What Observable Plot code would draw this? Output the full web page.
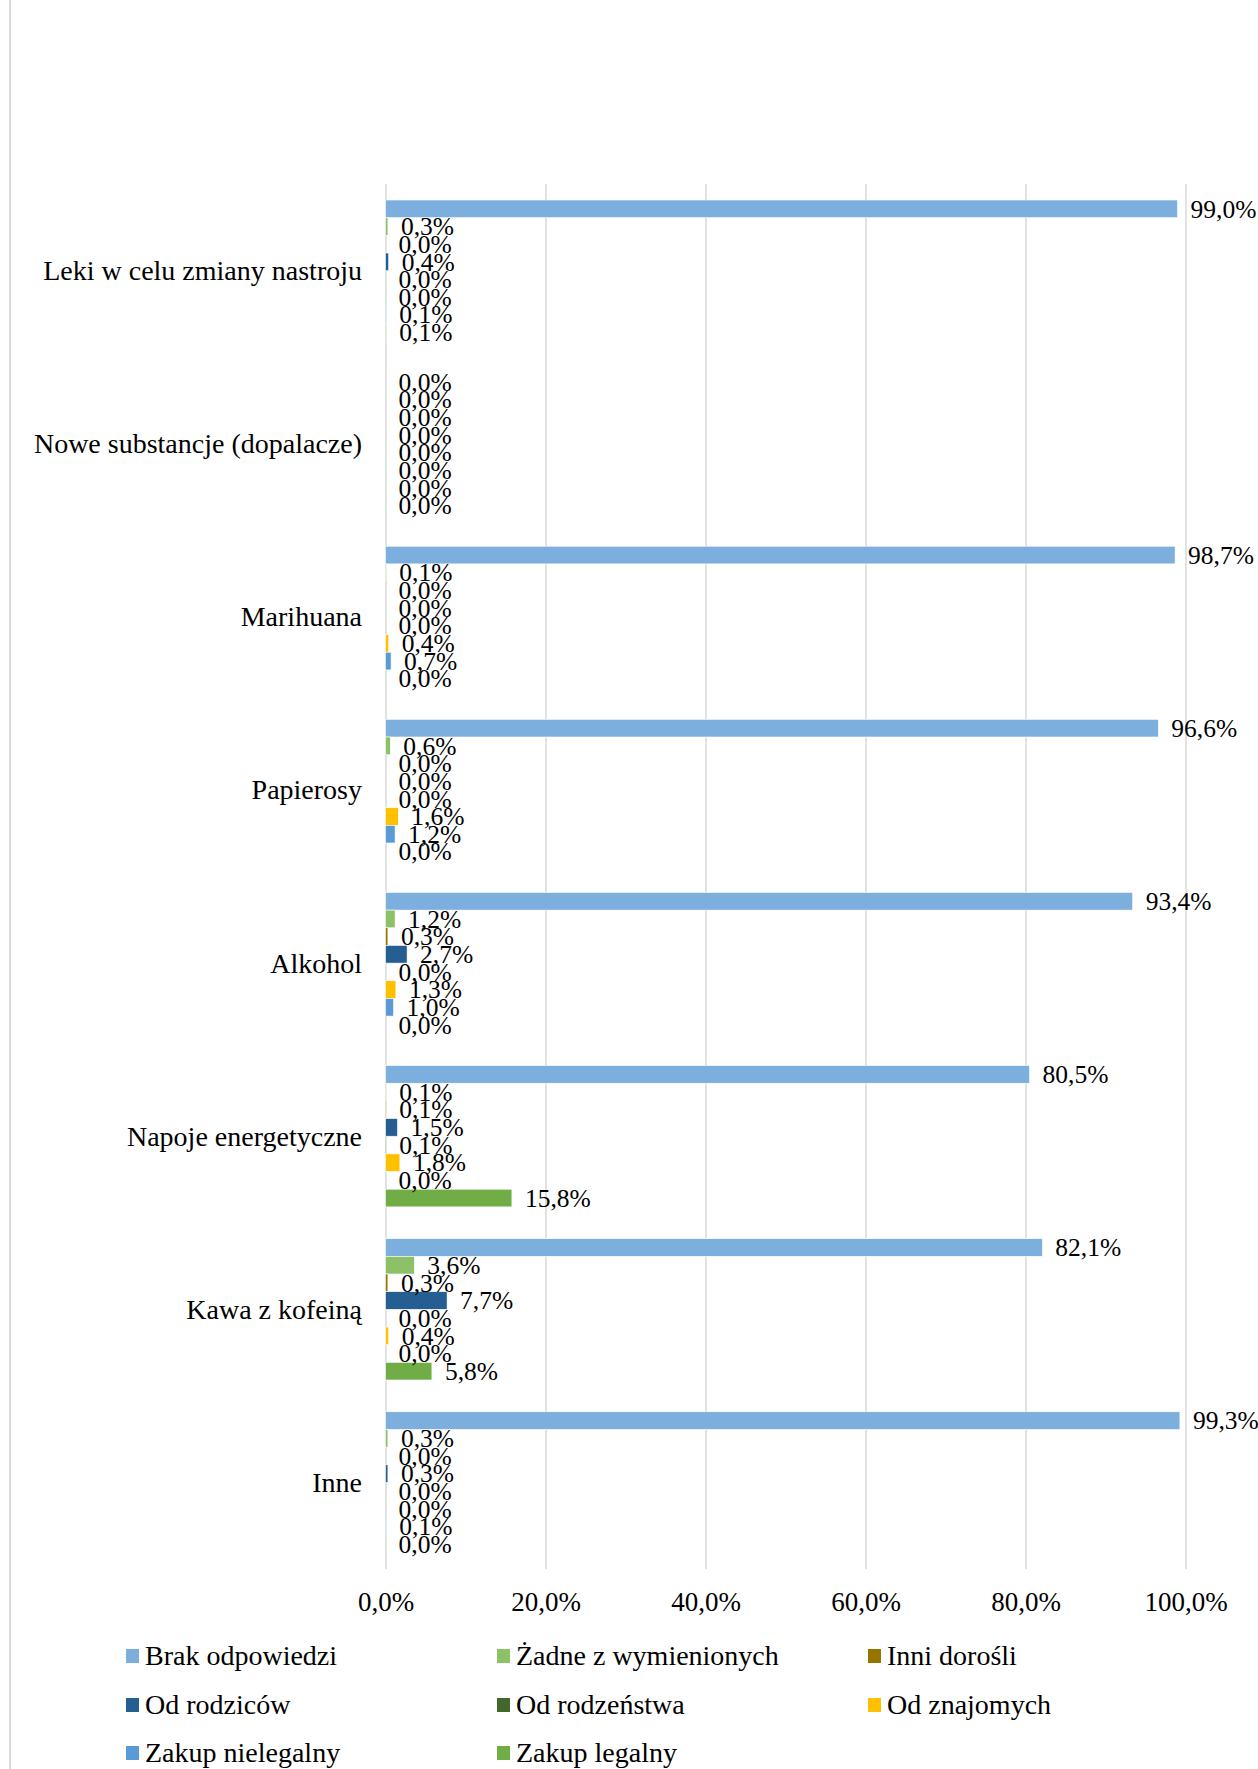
<!DOCTYPE html>
<html>
<head>
<meta charset="utf-8">
<script src="https://cdn.jsdelivr.net/npm/d3@7"></script>
<script src="https://cdn.jsdelivr.net/npm/@observablehq/plot@0.6"></script>
<style>
  html, body { margin: 0; padding: 0; background: #fff; }
  #wrap { position: relative; width: 1258px; height: 1769px; overflow: hidden; font-family: "Liberation Serif", "Times New Roman", serif; }
  #border { position: absolute; left: 9px; top: 0; width: 1.5px; height: 1769px; background: #d9d9d9; }
  #chart { position: absolute; left: 0; top: 0; }
  #legend { position: absolute; left: 126px; top: 1632px; display: grid; grid-template-columns: repeat(3, 371px); grid-auto-rows: 48.5px; align-items: center; font-size: 28px; color: #000; }
  .item { display: flex; align-items: center; white-space: nowrap; }
  .sw { width: 13px; height: 14px; margin-right: 6px; flex: none; }
</style>
</head>
<body>
<div id="wrap">
  <div id="border"></div>
  <div id="chart"></div>
  <div id="legend"></div>
</div>
<script>
const categories = ["Leki w celu zmiany nastroju", "Nowe substancje (dopalacze)", "Marihuana", "Papierosy", "Alkohol", "Napoje energetyczne", "Kawa z kofeiną", "Inne"];
const series = ["Brak odpowiedzi", "Żadne z wymienionych", "Inni dorośli", "Od rodziców", "Od rodzeństwa", "Od znajomych", "Zakup nielegalny", "Zakup legalny"];
const seriesColors = ["#7CAFDD", "#8CC168", "#997300", "#255E91", "#43682B", "#FFC000", "#5B9BD5", "#70AD47"];

const brakOdpowiedzi     = [99.0, 0.0, 98.7, 96.6, 93.4, 80.5, 82.1, 99.3];
const zadneZWymienionych = [0.3, 0.0, 0.1, 0.6, 1.2, 0.1, 3.6, 0.3];
const inniDorosli        = [0.0, 0.0, 0.0, 0.0, 0.3, 0.1, 0.3, 0.0];
const odRodzicow         = [0.4, 0.0, 0.0, 0.0, 2.7, 1.5, 7.7, 0.3];
const odRodzenstwa       = [0.0, 0.0, 0.0, 0.0, 0.0, 0.1, 0.0, 0.0];
const odZnajomych        = [0.0, 0.0, 0.4, 1.6, 1.3, 1.8, 0.4, 0.0];
const zakupNielegalny    = [0.1, 0.0, 0.7, 1.2, 1.0, 0.0, 0.0, 0.1];
const zakupLegalny       = [0.1, 0.0, 0.0, 0.0, 0.0, 15.8, 5.8, 0.0];

const xTicks = [0, 20, 40, 60, 80, 100];

const seriesValues = [brakOdpowiedzi, zadneZWymienionych, inniDorosli, odRodzicow, odRodzenstwa, odZnajomych, zakupNielegalny, zakupLegalny];
const data = [];
categories.forEach((c, ci) => {
  series.forEach((s, si) => {
    data.push({category: c, series: s, value: seriesValues[si][ci]});
  });
});

const fmt = v => v.toFixed(1).replace(".", ",") + "%";
const FONT = "Liberation Serif, Times New Roman, serif";

const chart = Plot.plot({
  width: 1258,
  height: 1625,
  marginLeft: 385.5,
  marginRight: 72.5,
  marginTop: 11,
  marginBottom: 56,
  style: {fontFamily: FONT, fontSize: "27px", color: "#000", background: "transparent"},
  x: {domain: [0, 100], ticks: xTicks, tickFormat: fmt, label: null},
  y: {domain: series, paddingInner: 0, paddingOuter: 0.9, round: false, axis: null},
  fy: {domain: ["", ...categories], padding: 0, round: false, label: null},
  color: {domain: series, range: seriesColors},
  marks: [
    Plot.gridX(xTicks, {stroke: "#d9d9d9", strokeOpacity: 1, strokeWidth: 1.5}),
    Plot.barX(data, {
      filter: d => d.value > 0,
      x: "value", y: "series", fy: "category", fill: "series",
      stroke: "white", strokeWidth: 0.6
    }),
    Plot.text(data, {
      x: "value", y: "series", fy: "category", text: d => fmt(d.value),
      textAnchor: "start", dx: 12.5, fontSize: 25.5, fill: "#000"
    }),
    Plot.axisX(xTicks, {anchor: "bottom", tickSize: 0, tickPadding: 22, tickFormat: fmt, fontSize: 27, label: null}),
    Plot.axisFy({anchor: "left", tickSize: 0, tickPadding: 24, fontSize: 28, label: null})
  ]
});
document.getElementById("chart").appendChild(chart);

const legend = document.getElementById("legend");
series.forEach((s, i) => {
  const item = document.createElement("div");
  item.className = "item";
  const sw = document.createElement("span");
  sw.className = "sw";
  sw.style.background = seriesColors[i];
  const t = document.createElement("span");
  t.textContent = s;
  item.appendChild(sw);
  item.appendChild(t);
  legend.appendChild(item);
});
</script>
</body>
</html>
